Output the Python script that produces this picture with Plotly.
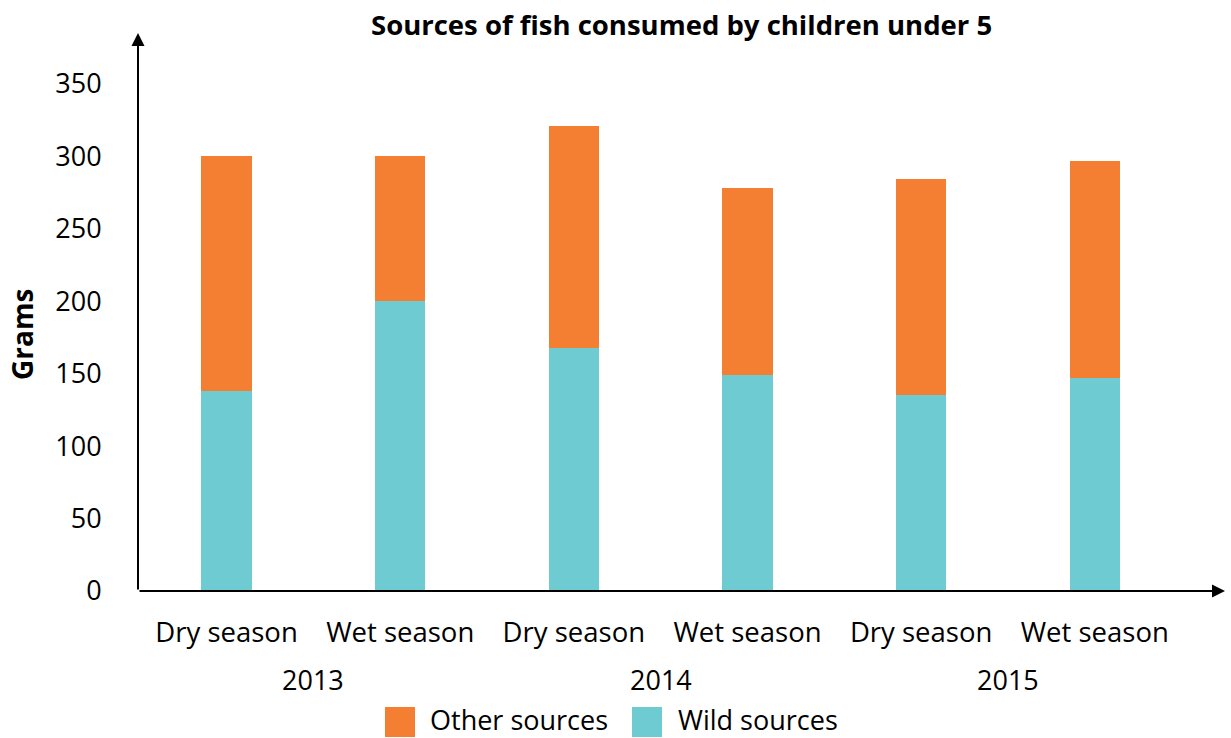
import plotly.graph_objects as go

seasons = ["Dry season", "Wet season", "Dry season", "Wet season", "Dry season", "Wet season"]
years = ["2013", "2014", "2015"]
wild_sources = [138, 200, 168, 149, 135, 147]
other_sources = [162, 100, 153, 129, 149, 150]
y_ticks = [0, 50, 100, 150, 200, 250, 300, 350]

ORANGE = "#F47E31"
TEAL = "#6ECBD1"
FONT = "Open Sans"

x_pos = list(range(len(seasons)))

fig = go.Figure()
fig.add_trace(go.Bar(x=x_pos, y=wild_sources, name="Wild sources",
                     marker=dict(color=TEAL, line=dict(width=0)), width=0.29,
                     showlegend=False))
fig.add_trace(go.Bar(x=x_pos, y=other_sources, name="Other sources",
                     marker=dict(color=ORANGE, line=dict(width=0)), width=0.29,
                     showlegend=False))

L, R, T, B = 138, 6, 33, 147
W, H = 1231, 738
pw, ph = W - L - R, H - T - B

def px_x(px):
    return (px - L) / pw

def px_y(py):
    return (H - B - py) / ph

annotations = []
# axis arrows
annotations.append(dict(x=0, y=1, xref="paper", yref="paper", ax=0, ay=ph, axref="pixel", ayref="pixel",
                        showarrow=True, arrowhead=2, arrowsize=1.3, arrowwidth=2, arrowcolor="black", text=""))
annotations.append(dict(x=1, y=0, xref="paper", yref="paper", ax=-pw, ay=0, axref="pixel", ayref="pixel",
                        showarrow=True, arrowhead=2, arrowsize=1.3, arrowwidth=2, arrowcolor="black", text=""))
# year labels
for i, yr in enumerate(years):
    annotations.append(dict(x=2 * i + 0.5, y=px_y(679), xref="x", yref="paper", text=yr, showarrow=False,
                            font=dict(family=FONT, size=27, color="black"), yanchor="middle"))
# y title
annotations.append(dict(x=px_x(22), y=px_y(335), xref="paper", yref="paper", text="<b>Grams</b>",
                        textangle=-90, showarrow=False, font=dict(family=FONT, size=28, color="black"),
                        xanchor="center", yanchor="middle"))
# title
annotations.append(dict(x=px_x(681), y=px_y(24), xref="paper", yref="paper",
                        text="<b>Sources of fish consumed by children under 5</b>", showarrow=False,
                        font=dict(family=FONT, size=27.5, color="black"), xanchor="center", yanchor="middle"))

# manual legend
shapes = []
legend_items = [("Other sources", ORANGE, 385, 429), ("Wild sources", TEAL, 632, 677)]
for name, col, sx, tx in legend_items:
    shapes.append(dict(type="rect", xref="paper", yref="paper", x0=px_x(sx), x1=px_x(sx + 30),
                       y0=px_y(737), y1=px_y(707), fillcolor=col, line=dict(width=0)))
    annotations.append(dict(x=px_x(tx), y=px_y(719), xref="paper", yref="paper", text=name,
                            showarrow=False, xanchor="left", yanchor="middle", borderpad=0,
                            font=dict(family=FONT, size=27, color="black")))

fig.update_layout(
    barmode="stack",
    width=W, height=H,
    margin=dict(l=L, r=R, t=T, b=B, pad=0),
    plot_bgcolor="white", paper_bgcolor="white",
    showlegend=False,
    font=dict(family=FONT, size=27, color="black"),
    xaxis=dict(range=[-0.51, 5.75], tickmode="array", tickvals=x_pos, ticktext=seasons,
               showgrid=False, zeroline=False, showline=False, ticks="outside", ticklen=17,
               tickcolor="rgba(0,0,0,0)", tickfont=dict(family=FONT, size=27.5, color="black")),
    yaxis=dict(range=[0, (H - B - T) / 1.449], tickmode="array", tickvals=y_ticks,
               showgrid=False, zeroline=False, showline=False, ticks="outside", ticklen=30,
               tickcolor="rgba(0,0,0,0)", tickfont=dict(family=FONT, size=27, color="black")),
    annotations=annotations,
    shapes=shapes,
)

fig.write_html("out.html")
